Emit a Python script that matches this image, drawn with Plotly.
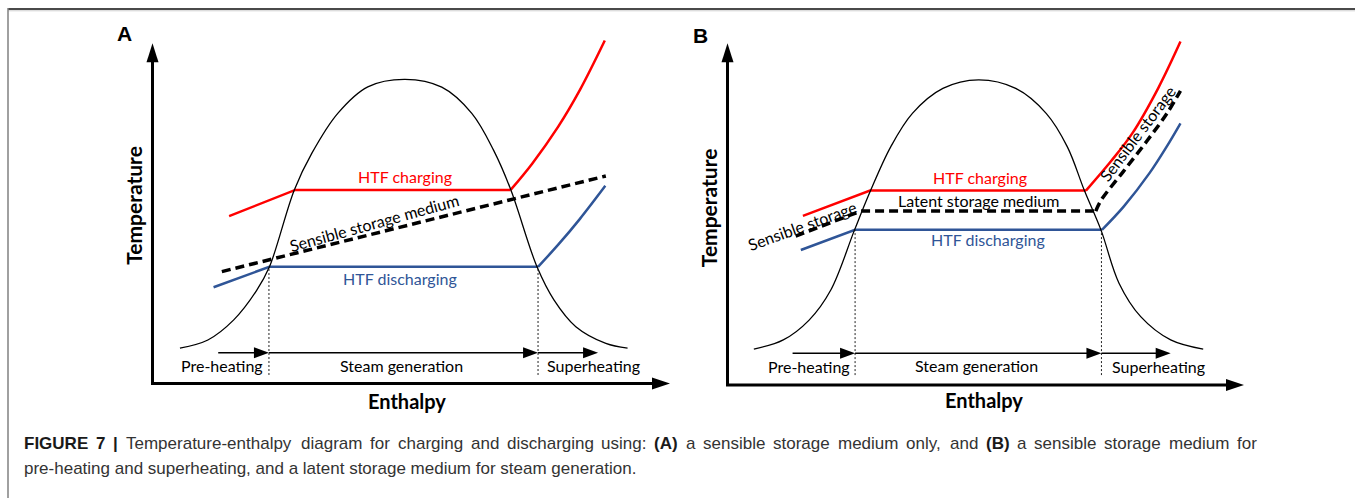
import plotly.graph_objects as go

FIG_W, FIG_H = 1355, 498

# ---------------- DATA (relative enthalpy / temperature units, axes run 0-100) ----------------
# Panel A: sensible storage medium only
a_dome_h = [5.3, 10.7, 15.7, 20.1, 22.6, 27.4, 30.8, 35.8, 41.6, 48.8, 55.9, 61.7, 65.9, 69.2, 74.3, 77.6, 81.8, 87.6, 91.8]
a_dome_t = [10.4, 12.8, 18.7, 27.3, 34.3, 56.9, 67.7, 79.4, 87.2, 89.4, 87.1, 79.4, 68.6, 57.1, 34.3, 24.5, 16.7, 11.8, 10.4]
a_charge_line_h = [14.8, 27.6, 69.2]
a_charge_line_t = [49.2, 56.9, 56.9]
a_charge_curve_h = [69.2, 73.4, 78.4, 82.6, 87.4]
a_charge_curve_t = [56.9, 64.7, 75.5, 86.3, 100.8]
a_storage_h = [13.4, 87.6]
a_storage_t = [32.9, 61.0]
a_discharge_line_h = [11.8, 22.6, 74.5]
a_discharge_line_t = [28.3, 34.3, 34.3]
a_discharge_curve_h = [74.5, 78.4, 82.6, 87.5]
a_discharge_curve_t = [34.3, 40.8, 48.4, 58.1]
a_stage_edges = [12.7, 22.5, 74.5, 86.1]
a_stage_level = 9.05
a_marker_bottom = 2.5

# Panel B: sensible storage for pre-heating/superheating, latent storage for steam generation
b_dome_h = [5.1, 10.8, 15.8, 20.0, 24.6, 27.7, 31.6, 35.8, 41.7, 48.6, 55.8, 61.7, 65.8, 69.1, 72.3, 75.8, 80.0, 85.8, 92.1]
b_dome_t = [10.5, 13.2, 19.0, 27.8, 45.4, 56.9, 69.7, 79.5, 86.8, 89.3, 86.8, 79.5, 69.7, 56.9, 45.4, 29.8, 20.0, 13.2, 10.5]
b_charge_line_h = [14.6, 27.6, 69.4]
b_charge_line_t = [49.5, 56.9, 56.9]
b_charge_curve_h = [69.4, 74.2, 78.4, 83.4, 87.7]
b_charge_curve_t = [56.9, 65.4, 73.7, 86.9, 100.5]
b_storage_line_h = [13.2, 25.8, 71.3]
b_storage_line_t = [43.6, 50.9, 50.9]
b_storage_curve_h = [71.3, 72.3, 76.7, 81.2, 85.0, 87.7]
b_storage_curve_t = [50.9, 54.0, 62.6, 71.4, 79.3, 86.1]
b_discharge_line_h = [14.2, 24.7, 72.5]
b_discharge_line_t = [39.5, 45.4, 45.4]
b_discharge_curve_h = [72.5, 76.7, 81.7, 85.0, 87.7]
b_discharge_curve_t = [45.4, 52.2, 62.0, 69.7, 76.6]
b_stage_edges = [12.6, 24.7, 72.4, 85.8]
b_stage_level = 9.28
b_marker_bottom = 2.9

stage_labels = ["Pre-heating", "Steam generation", "Superheating"]
axis_x_title = "Enthalpy"
axis_y_title = "Temperature"

caption_line1 = [("FIGURE", True), ("7", True), ("|", True), ("Temperature-enthalpy", False), ("diagram", False),
                 ("for", False), ("charging", False), ("and", False), ("discharging", False), ("using:", False),
                 ("(A)", True), ("a", False), ("sensible", False), ("storage", False), ("medium", False),
                 ("only,", False), ("and", False), ("(B)", True), ("a", False), ("sensible", False),
                 ("storage", False), ("medium", False), ("for", False)]
caption_line2 = "pre-heating and superheating, and a latent storage medium for steam generation."

# ---------------- LAYOUT / STYLE ----------------
RED = "#FF0000"
BLUE = "#2F5597"
LABEL_FONT = "Lato"
CAP_FONT = "Liberation Sans, Arial"
CAP_SIZE = 17
CAP_LEFT, CAP_RIGHT = 22, 1255
RANGE_X = [-8, 102]
RANGE_Y = [-8, 106]

# origin pixel and pixels-per-unit for each panel
panels = {
    "A": dict(ox=152.5, oy=383.5, sx=5.175, sy=3.402, xa="x", ya="y"),
    "B": dict(ox=727.5, oy=385.0, sx=5.165, sy=3.417, xa="x2", ya="y2"),
}


def domains(p):
    x0 = p["ox"] + RANGE_X[0] * p["sx"]
    x1 = p["ox"] + RANGE_X[1] * p["sx"]
    ytop = p["oy"] - RANGE_Y[1] * p["sy"]
    ybot = p["oy"] - RANGE_Y[0] * p["sy"]
    return [x0 / FIG_W, x1 / FIG_W], [(FIG_H - ybot) / FIG_H, (FIG_H - ytop) / FIG_H]


fig = go.Figure()
shapes = []
annotations = []


def line(p, xs, ys, color, width, dash="solid", shape="linear"):
    fig.add_trace(go.Scatter(x=xs, y=ys, mode="lines", xaxis=p["xa"], yaxis=p["ya"],
                             line=dict(color=color, width=width, dash=dash, shape=shape,
                                       smoothing=1.0),
                             hoverinfo="skip", showlegend=False))


def head(p, tx, ty, dx, dy, L, W, color="black"):
    # triangle arrowhead, sizes given in pixels, direction in pixel space (y up)
    bx, by = -dx * L, -dy * L
    px_, py_ = -dy * W / 2, dx * W / 2
    pts = [(tx, ty),
           (tx + (bx + px_) / p["sx"], ty + (by + py_) / p["sy"]),
           (tx + (bx - px_) / p["sx"], ty + (by - py_) / p["sy"])]
    path = "M " + " L ".join(f"{x:.4f},{y:.4f}" for x, y in pts) + " Z"
    shapes.append(dict(type="path", path=path, xref=p["xa"], yref=p["ya"],
                       fillcolor=color, line=dict(width=0), layer="above"))


def text(p, x, y, s, size=16, color="black", angle=0, bold=False, family=LABEL_FONT):
    annotations.append(dict(x=x, y=y, xref=p["xa"], yref=p["ya"], text=(f"<b>{s}</b>" if bold else s),
                            showarrow=False, textangle=angle, xanchor="center", yanchor="middle",
                            font=dict(family=family, size=size, color=color)))


def draw_panel(p, letter, dome_h, dome_t, edges, level, mbottom, dis_level, label_pos):
    # main axes with arrows
    shapes.append(dict(type="line", xref=p["xa"], yref=p["ya"], x0=0, y0=0, x1=0, y1=100 - 16 / p["sy"],
                       line=dict(color="black", width=3)))
    shapes.append(dict(type="line", xref=p["xa"], yref=p["ya"], x0=-1.5 / p["sx"], y0=0,
                       x1=100 - 15 / p["sx"], y1=0, line=dict(color="black", width=3)))
    head(p, 0, 100, 0, 1, 19, 12)
    head(p, 100, 0, 1, 0, 18, 12)
    # dome
    line(p, dome_h, dome_t, "black", 1.3, shape="spline")
    # stage marker lines (dotted)
    for e in (edges[1], edges[2]):
        fig.add_trace(go.Scatter(x=[e, e], y=[mbottom, dis_level], mode="lines", xaxis=p["xa"], yaxis=p["ya"],
                                 line=dict(color="#222222", width=1, dash="2px,2px"),
                                 hoverinfo="skip", showlegend=False))
    # process arrows
    for i in range(3):
        shapes.append(dict(type="line", xref=p["xa"], yref=p["ya"], x0=edges[i], y0=level,
                           x1=edges[i + 1] - 12 / p["sx"], y1=level, line=dict(color="black", width=1.5)))
        head(p, edges[i + 1], level, 1, 0, 15, 11)
    # stage labels
    for s, (x, y) in zip(stage_labels, label_pos["stages"]):
        text(p, x, y, s, size=16)
    # axis titles
    tx, ty = label_pos["ytitle"]
    text(p, tx, ty, axis_y_title, size=21, angle=-90, bold=True)
    tx, ty = label_pos["xtitle"]
    text(p, tx, ty, axis_x_title, size=20, bold=True)
    lx, ly = label_pos["letter"]
    text(p, lx, ly, letter, size=21, bold=True, family="Liberation Sans, Arial")


pA, pB = panels["A"], panels["B"]

# ---- Panel A ----
line(pA, a_charge_line_h, a_charge_line_t, RED, 2.5)
line(pA, a_charge_curve_h, a_charge_curve_t, RED, 2.5, shape="spline")
line(pA, a_discharge_line_h, a_discharge_line_t, BLUE, 2.5)
line(pA, a_discharge_curve_h, a_discharge_curve_t, BLUE, 2.5, shape="spline")
line(pA, a_storage_h, a_storage_t, "black", 3.5, dash="9px,5px")
draw_panel(pA, "A", a_dome_h, a_dome_t, a_stage_edges, a_stage_level, a_marker_bottom,
           a_discharge_line_t[-1],
           dict(stages=[(13.4, 5.4), (48.2, 5.4), (85.2, 5.2)], ytitle=(-3.6, 52.5),
                xtitle=(49.1, -5.0), letter=(-5.5, 103.0)))
text(pA, 48.8, 60.8, "HTF charging", color=RED)
text(pA, 47.9, 30.9, "HTF discharging", color=BLUE)
text(pA, 42.9, 47.2, "Sensible storage medium", angle=-15.5)

# ---- Panel B ----
line(pB, b_charge_line_h, b_charge_line_t, RED, 2.5)
line(pB, b_charge_curve_h, b_charge_curve_t, RED, 2.5, shape="spline")
line(pB, b_discharge_line_h, b_discharge_line_t, BLUE, 2.5)
line(pB, b_discharge_curve_h, b_discharge_curve_t, BLUE, 2.5, shape="spline")
line(pB, b_storage_line_h, b_storage_line_t, "black", 3.5, dash="9px,5px")
line(pB, b_storage_curve_h, b_storage_curve_t, "black", 3.5, dash="9px,5px", shape="spline")
draw_panel(pB, "B", b_dome_h, b_dome_t, b_stage_edges, b_stage_level, b_marker_bottom,
           b_discharge_line_t[-1],
           dict(stages=[(15.8, 5.4), (48.2, 5.6), (83.5, 5.4)], ytitle=(-3.8, 52.0),
                xtitle=(49.6, -4.4), letter=(-5.2, 102.3)))
text(pB, 48.9, 60.8, "HTF charging", color=RED)
text(pB, 48.6, 53.9, "Latent storage medium")
text(pB, 50.4, 42.6, "HTF discharging", color=BLUE)
text(pB, 14.5, 46.8, "Sensible storage", angle=-20)
text(pB, 79.3, 73.7, "Sensible storage", angle=-53)

# ---- frame ----
shapes.append(dict(type="line", xref="paper", yref="paper", x0=8 / FIG_W, x1=1, y0=1 - 9 / FIG_H, y1=1 - 9 / FIG_H,
                   line=dict(color="#4a4a4a", width=2)))
shapes.append(dict(type="line", xref="paper", yref="paper", x0=8 / FIG_W, x1=1, y0=1 - 10.8 / FIG_H,
                   y1=1 - 10.8 / FIG_H, line=dict(color="#cfcfcf", width=1)))
shapes.append(dict(type="line", xref="paper", yref="paper", x0=8 / FIG_W, x1=8 / FIG_W, y0=0, y1=1 - 8 / FIG_H,
                   line=dict(color="#808080", width=1.5)))

# ---- caption (first line justified like the journal layout) ----
ARIAL_REG = {" ": 278, "a": 556, "b": 556, "c": 500, "d": 556, "e": 556, "f": 278, "g": 556, "h": 556, "i": 222,
             "l": 222, "m": 833, "n": 556, "o": 556, "p": 556, "r": 333, "s": 500, "t": 278, "u": 556, "y": 500,
             "-": 333, ":": 278, ",": 278, ".": 278, "T": 611}
ARIAL_BOLD = {" ": 278, "F": 611, "I": 278, "G": 778, "U": 722, "R": 722, "E": 667, "7": 556, "|": 280, "(": 333,
              ")": 333, "A": 722, "B": 722}


def word_width(w, bold):
    table = ARIAL_BOLD if bold else ARIAL_REG
    return sum(table.get(c, 556) for c in w) * CAP_SIZE / 1000.0


space_w = 278 * CAP_SIZE / 1000.0
natural = sum(word_width(w, b) for w, b in caption_line1) + space_w * (len(caption_line1) - 1)
extra = (CAP_RIGHT - CAP_LEFT - natural) / (len(caption_line1) - 1)
xcur = CAP_LEFT
for w, b in caption_line1:
    annotations.append(dict(x=xcur / FIG_W, y=1 - 443 / FIG_H, xref="paper", yref="paper",
                            text=(f"<b>{w}</b>" if b else w), showarrow=False, xanchor="left", yanchor="middle",
                            font=dict(family=CAP_FONT, size=CAP_SIZE, color=("#1a1a1a" if b else "#333333"))))
    xcur += word_width(w, b) + space_w + extra
annotations.append(dict(x=CAP_LEFT / FIG_W, y=1 - 468 / FIG_H, xref="paper", yref="paper", text=caption_line2,
                        showarrow=False, xanchor="left", yanchor="middle",
                        font=dict(family=CAP_FONT, size=CAP_SIZE, color="#333333")))

dxA, dyA = domains(pA)
dxB, dyB = domains(pB)
axis_common = dict(visible=False, showgrid=False, zeroline=False, fixedrange=True)
fig.update_layout(
    width=FIG_W, height=FIG_H, margin=dict(l=0, r=0, t=0, b=0),
    paper_bgcolor="white", plot_bgcolor="rgba(0,0,0,0)",
    xaxis=dict(domain=dxA, range=RANGE_X, **axis_common),
    yaxis=dict(domain=dyA, range=RANGE_Y, **axis_common),
    xaxis2=dict(domain=dxB, range=RANGE_X, anchor="y2", **axis_common),
    yaxis2=dict(domain=dyB, range=RANGE_Y, anchor="x2", **axis_common),
    shapes=shapes, annotations=annotations, showlegend=False,
)
fig.write_html("out.html")
